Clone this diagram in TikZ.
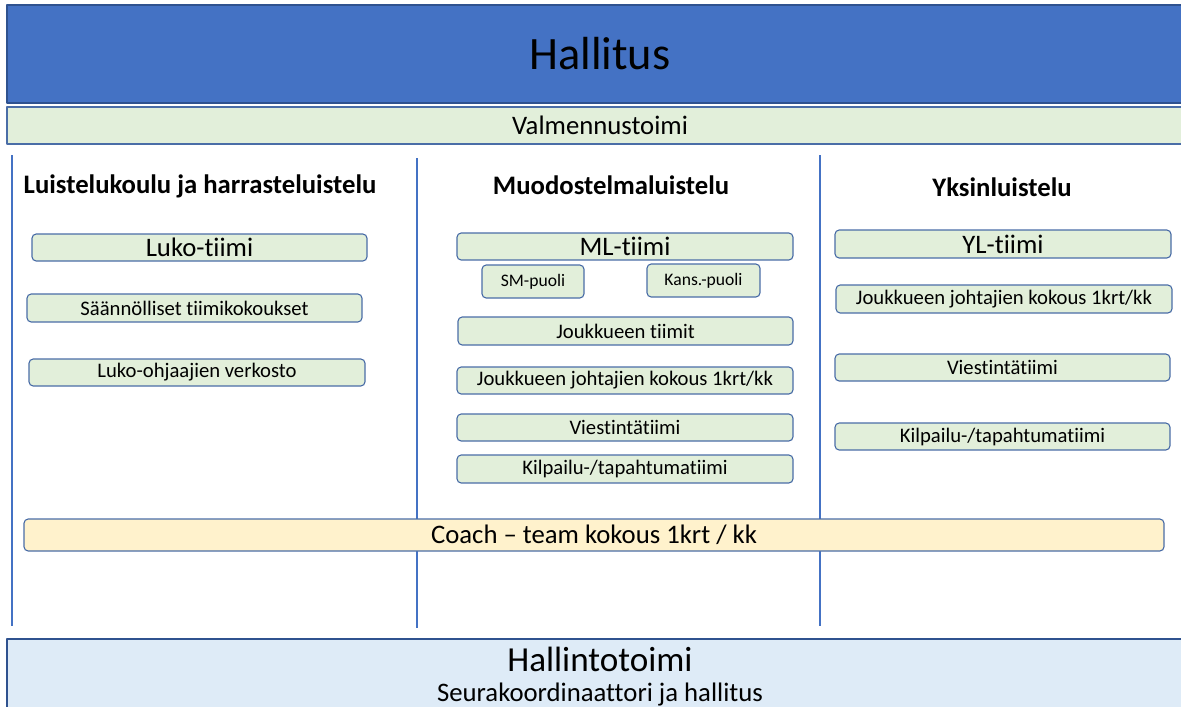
\documentclass[tikz,border=0pt]{standalone}
\usepackage{fontspec}
\setmainfont{Carlito}[Ligatures=NoCommon]
\definecolor{topblue}{HTML}{4472C4}
\definecolor{darkline}{HTML}{2F528F}
\definecolor{boxline}{HTML}{4A6DA7}
\definecolor{boxfill}{HTML}{E2EFDA}
\definecolor{coachfill}{HTML}{FFF2CC}
\definecolor{adminfill}{HTML}{DEEBF7}
\begin{document}
\begin{tikzpicture}[x=0.025cm,y=-0.025cm,line join=round,
	wh/.style 2 args={minimum width=#1*0.025cm,minimum height=#2*0.025cm},
	bar/.style={draw=darkline,line width=1pt,inner sep=0pt},
	box/.style={draw=boxline,fill=boxfill,line width=0.8pt,rounded corners=3pt,inner sep=0pt,font=\fontsize{14.7}{17}\selectfont},
	big/.style={font=\fontsize{19}{22}\selectfont},
	small/.style={font=\fontsize{12.5}{14}\selectfont},
	head/.style={font=\fontsize{19}{22}\bfseries\selectfont},
	sep/.style={draw=topblue,line width=1.4pt}]
		\useasboundingbox (0,0) rectangle (1181,706);
		\clip (0,0) rectangle (1181,706);
		% ylapalkit
		\node[bar,fill=topblue,wh={1186}{98},font=\fontsize{33}{38}\selectfont] (hallitus) at (600,54) {Hallitus};
		\node[bar,draw=boxline,fill=boxfill,wh={1186}{37},big] (valm) at (600,125.5) {Valmennustoimi};
		% sarakkeiden viivat
		\draw[sep] (12,155)--(12,626);
		\draw[sep] (417,158)--(417,628);
		\draw[sep] (820,155)--(820,626);
		\node[head] (luhead) at (200,186) {Luistelukoulu ja harrasteluistelu};
		\node[head] (mlhead) at (611,185) {Muodostelmaluistelu};
		\node[head] (ylhead) at (1002,187) {Yksinluistelu};
		% luistelukoulu
		\node[box,wh={335}{27},big] (luko) at (199.5,247.5) {Luko-tiimi};
		\node[box,wh={335}{28}] (saann) at (194.5,308) {Säännölliset tiimikokoukset};
		\node[box,wh={336}{27}] (lukoohj) at (197,372.5) {Luko-ohjaajien verkosto};
		% muodostelmaluistelu
		\node[box,wh={336}{27},big] (mltiimi) at (625,246.5) {ML-tiimi};
		\node[box,wh={102}{33},small] (smpuoli) at (533,281.5) {SM-puoli};
		\node[box,wh={113}{33},small] (kanspuoli) at (703.5,280.5) {Kans.-puoli};
		\node[box,wh={335}{28}] (jtiimit) at (625.5,331) {Joukkueen tiimit};
		\node[box,wh={336}{27}] (mljoht) at (625,380.5) {Joukkueen johtajien kokous 1krt/kk};
		\node[box,wh={336}{27}] (mlviest) at (625,427.5) {Viestintätiimi};
		\node[box,wh={336}{28}] (mlkilp) at (625,469) {Kilpailu-/tapahtumatiimi};
		% yksinluistelu
		\node[box,wh={336}{28},big] (yltiimi) at (1003,244) {YL-tiimi};
		\node[box,wh={336}{28}] (yljoht) at (1004,299) {Joukkueen johtajien kokous 1krt/kk};
		\node[box,wh={335}{27}] (ylviest) at (1002.5,367.5) {Viestintätiimi};
		\node[box,wh={335}{27}] (ylkilp) at (1002.5,436.5) {Kilpailu-/tapahtumatiimi};
		\node[box,fill=coachfill,wh={1140}{32},big] (coach) at (594,535) {Coach – team kokous 1krt / kk};
		% alapalkki
		\node[bar,fill=adminfill,wh={1186}{82}] (hallinto) at (600,680) {};
		\node[font=\fontsize{25}{30}\selectfont] (hallintoteksti) at (600,659) {Hallintotoimi};
		\node[big] (seura) at (600,694) {Seurakoordinaattori ja hallitus};
\end{tikzpicture}
\end{document}
